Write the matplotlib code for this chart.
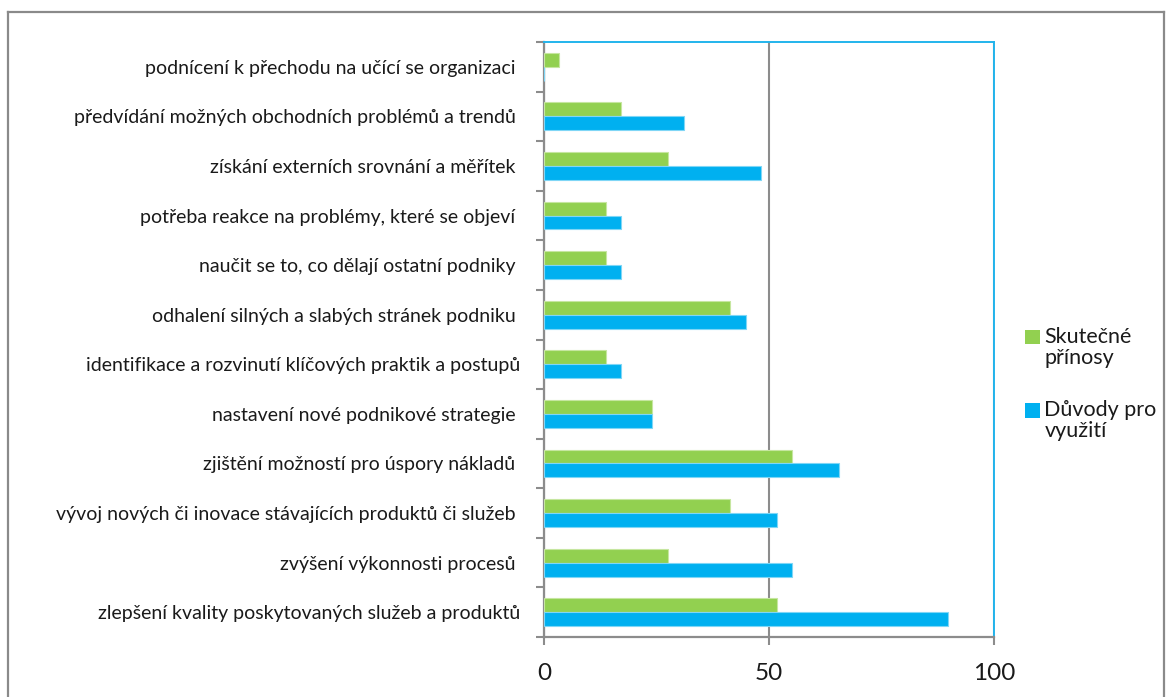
import matplotlib
matplotlib.use("Agg")
import matplotlib.pyplot as plt
from matplotlib.patches import Patch, Rectangle
from matplotlib.legend_handler import HandlerPatch
from matplotlib.lines import Line2D
import numpy as np

# Categories listed bottom to top
categories = [
    "zlepšení kvality poskytovaných služeb a produktů",
    "zvýšení výkonnosti procesů ",
    "vývoj nových či inovace stávajících produktů či služeb ",
    "zjištění možností pro úspory nákladů ",
    "nastavení nové podnikové strategie ",
    "identifikace a rozvinutí klíčových praktik a postupů",
    "odhalení silných a slabých stránek podniku ",
    "naučit se to, co dělají ostatní podniky ",
    "potřeba reakce na problémy, které se objeví ",
    "získání externích srovnání a měřítek ",
    "předvídání možných obchodních problémů a trendů ",
    "podnícení k přechodu na učící se organizaci ",
]
skutecne_prinosy = [51.7, 27.6, 41.4, 55.2, 24.1, 13.8, 41.4, 13.8, 13.8, 27.6, 17.2, 3.4]
duvody_pro_vyuziti = [89.7, 55.2, 51.7, 65.5, 24.1, 17.2, 44.8, 17.2, 17.2, 48.3, 31.0, 0.0]
x_ticks = [0, 50, 100]
series_names = ["Skutečné\npřínosy", "Důvody pro\nvyužití"]

GREEN = "#92D050"
BLUE = "#00B0F0"
GRAY = "#8C8C8C"
FONT = "Lato"

W, H = 1166, 697
fig = plt.figure(figsize=(W / 100, H / 100), dpi=100)
fig.patch.set_facecolor("white")

# outer chart frame
for xs, ys in [([8, 8], [12, H + 5]), ([8, 1164], [12, 12]), ([1164, 1164], [12, H + 5])]:
    fig.add_artist(Line2D([x / W for x in xs], [1 - y / H for y in ys],
                          transform=fig.transFigure, color="#8A8A8A", lw=1.6))

ax = fig.add_axes([544 / W, 1 - 637 / H, 450 / W, 595 / H])

y = np.arange(len(categories))
bh = 0.28
ax.barh(y + bh / 2, skutecne_prinosy, height=bh, color=GREEN,
        edgecolor="#C6E6A0", linewidth=0.8, zorder=3)
ax.barh(y - bh / 2, duvody_pro_vyuziti, height=bh, color=BLUE,
        edgecolor="#7FD6F6", linewidth=0.8, zorder=3)

ax.set_xlim(0, 100)
ax.set_ylim(-0.5, len(categories) - 0.5)

# category labels at centres, tick marks at category boundaries
ax.set_yticks(y)
ax.set_yticklabels(categories, fontsize=14, family=FONT, color="#1a1a1a")
ax.tick_params(axis="y", which="major", length=0, pad=17)
ax.set_yticks(np.arange(-0.5, len(categories), 1.0), minor=True)
ax.tick_params(axis="y", which="minor", length=6, width=1.5, color=GRAY, direction="out")

ax.set_xticks(x_ticks)
ax.set_xticklabels([str(v) for v in x_ticks], fontsize=17.5, family=FONT, color="#1a1a1a")
ax.tick_params(axis="x", length=6, width=1.5, color=GRAY, direction="out", pad=13)

ax.grid(axis="x", color=GRAY, linewidth=1.5, zorder=1)

for side in ("left", "bottom"):
    ax.spines[side].set_color(GRAY)
    ax.spines[side].set_linewidth(1.6)
for side in ("top", "right"):
    ax.spines[side].set_color("#22B4EC")
    ax.spines[side].set_linewidth(1.4)
ax.spines["top"].set_zorder(4)


def square_at_top(legend, orig_handle, xdescent, ydescent, width, height, fontsize):
    # legend key drawn level with the first line of a two-line label
    sq = 0.68 * fontsize
    return Rectangle((-xdescent, -ydescent + height - sq + 0.1 * fontsize), sq, sq)


handles = [Patch(facecolor=GREEN, edgecolor="none"), Patch(facecolor=BLUE, edgecolor="none")]
leg = fig.legend(handles, series_names, loc="center left",
                 bbox_to_anchor=(1025 / W, 1 - 384 / H), frameon=False,
                 prop={"family": FONT, "size": 15.5}, handlelength=0.68, handleheight=2.0,
                 handletextpad=0.22, labelspacing=1.5, borderpad=0, borderaxespad=0,
                 handler_map={Patch: HandlerPatch(patch_func=square_at_top)})
for t in leg.get_texts():
    t.set_color("#1a1a1a")
    t.set_linespacing(1.05)

fig.savefig("out.png", dpi=100)
